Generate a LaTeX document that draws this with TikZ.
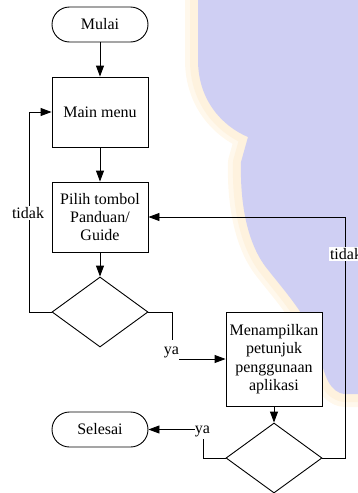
\documentclass[tikz,border=0pt]{standalone}
\usepackage{fontspec}
\setmainfont{Liberation Serif}
\usetikzlibrary{shapes.geometric,arrows.meta}
\definecolor{lav}{RGB}{207,207,243}
\definecolor{cream}{RGB}{254,242,222}
\definecolor{creamlight}{RGB}{255,248,236}
\begin{document}
\begin{tikzpicture}[x=1pt,y=-1pt,
  every node/.style={font=\rmfamily\fontsize{16}{18.4}\selectfont},
  base/.style={draw=black, line width=0.9pt, fill=white, align=center, inner sep=0pt},
  terminal/.style={base, rounded corners=17.5pt, minimum width=96pt, minimum height=35pt},
  procbox/.style={base, minimum width=96pt, minimum height=70pt},
  decision/.style={base, diamond, minimum width=96pt, minimum height=70pt},
  lbl/.style={inner sep=1.5pt, fill=white},
  yalbl/.style={inner sep=0pt},
  conn/.style={draw=black, line width=0.9pt},
  arr/.style={conn, -{Triangle[length=11pt,width=8pt]}}
]
\useasboundingbox (0,0) rectangle (358,493);
\clip (0,0) rectangle (358,493);
% watermark
\def\wmpath{(198,-30) -- (198,60) .. controls (198,100) and (222,126) .. (248,137)
  -- (241,162) .. controls (240,200) and (246,240) .. (265,266)
  .. controls (285,292) and (312,320) .. (320,355)
  .. controls (324,375) and (330,393) .. (345,394) -- (390,394) -- (390,-30) -- cycle}
\draw[creamlight, line width=26pt, line join=round] \wmpath;
\draw[cream, line width=16pt, line join=round] \wmpath;
\fill[lav] \wmpath;

% nodes
\node[terminal] (mulai) at (100,24.5) {Mulai};
\node[procbox] (menu) at (100,112) {Main menu};
\node[procbox] (pilih) at (100,217) {Pilih tombol\\Panduan/\\Guide};
\node[decision] (d1) at (100,312) {};
\node[procbox, minimum height=94pt] (tampil) at (274,359) {Menampilkan\\petunjuk\\penggunaan\\aplikasi};
\node[decision] (d2) at (274,458) {};
\node[terminal] (selesai) at (100,429.5) {Selesai};

% connectors
\draw[arr] (mulai) -- (menu);
\draw[arr] (menu) -- (pilih);
\draw[arr] (pilih) -- (d1);
\coordinate (lx) at (29,0);
\draw[arr] (d1.west) -- (d1.west -| lx) |- (menu.west);
\node[lbl] (tidak1) at (28,213) {tidak};

\coordinate (ya1end) at (172,340);
\draw[conn] (d1.east) -| (ya1end);
\node[yalbl] (ya1) at (171.5,352) {ya};
\draw[arr] (ya1.east |- tampil.west) -- (tampil.west);

\draw[arr] (tampil) -- (d2);
\coordinate (rx) at (345,0);
\draw[arr] (d2.east) -| (rx |- pilih.east) -- (pilih.east);
\node[lbl] (tidak2) at (346,254) {tidak};

\coordinate (ya2end) at (203,439);
\draw[conn] (d2.west) -| (ya2end);
\node[yalbl] (ya2) at (202.5,431) {ya};
\draw[arr] (ya2.west |- selesai.east) -- (selesai.east);
\end{tikzpicture}
\end{document}
